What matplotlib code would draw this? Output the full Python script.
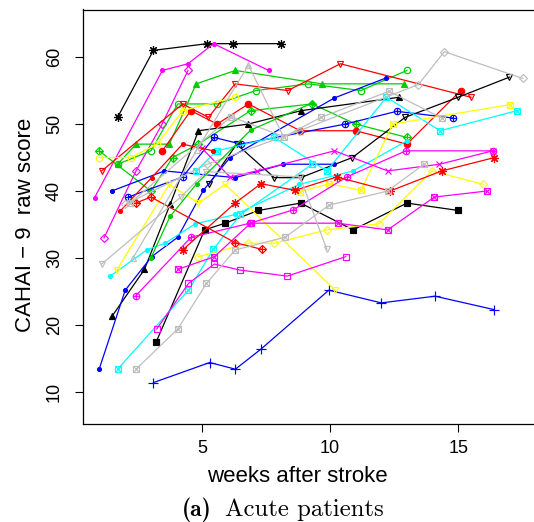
import matplotlib
matplotlib.use("Agg")
import matplotlib.pyplot as plt

plt.rcParams['font.family'] = ['Liberation Sans', 'DejaVu Sans']

# weeks after stroke (wk) and CAHAI-9 raw score (sc), one pair per patient
wk01 = [1.7, 3.1, 5.2, 6.2, 8.1];                      sc01 = [51, 61, 62, 62, 62]
wk02 = [0.8, 3.45, 4.45, 5.45, 7.6];                   sc02 = [39, 58, 59, 62, 58]
wk03 = [1.17, 2.42, 3.44, 4.45];                       sc03 = [33, 43, 50, 58]
wk04 = [1.7, 3.0, 4.05, 5.6, 7.1, 9.15, 11.2, 13.0];   sc04 = [44, 46, 53, 53, 55, 56, 55, 58]
wk05 = [0.98, 3.0, 3.85, 4.85, 6.9, 9.3, 11.0, 13.0];  sc05 = [46, 40, 45, 47, 52, 53, 50, 48]
wk06 = [1.7, 2.42, 3.72, 4.77, 6.3, 9.67, 12.9];       sc06 = [44, 47, 47, 56, 58, 56, 56]
wk07 = [1.08, 4.24, 5.25, 6.29, 8.35, 10.4, 15.5];     sc07 = [43, 53, 51, 56, 55, 59, 54]
wk08 = [3.45, 4.56, 5.59, 6.81, 8.83, 11.0, 13.0, 15.1]; sc08 = [46, 52, 50, 53, 49, 49, 47, 55]
wk09 = [1.5, 2.75, 3.75, 4.86, 6.81, 8.87, 12.7];      sc09 = [21.4, 28.3, 38, 49, 50, 52, 54]
wk10 = [5.27, 6.35, 7.82, 8.85, 10.87, 12.93, 15.0, 17.0]; sc10 = [41, 47, 42, 42, 45, 51, 54, 57]
wk11 = [3.2, 5.1, 5.9, 7.2, 8.85, 10.9, 13.0, 15.0];   sc11 = [17.4, 34.2, 35.2, 37.1, 38.2, 34.2, 38.2, 37.1]
wk12 = [3.1, 5.3, 6.3, 7.3, 9.95, 12.0, 14.1, 16.4];   sc12 = [11.4, 14.4, 13.4, 16.4, 25.2, 23.3, 24.3, 22.3]
wk13 = [0.98, 2.0, 3.03, 4.05, 5.05, 6.09, 10.17, 12.2]; sc13 = [13.4, 25.2, 30.2, 33.1, 40.1, 45, 53.9, 56.9]
wk14 = [2.12, 4.24, 5.47, 6.53, 10.6, 12.6, 14.8];     sc14 = [39.1, 42.1, 48, 47, 50, 51.9, 50.9]
wk15 = [1.47, 3.53, 6.3, 8.18, 10.17];                 sc15 = [40, 43, 42, 44, 44]
wk16 = [4.77, 5.57, 7.82, 9.87, 12.2, 14.3, 17.3];     sc16 = [43, 46, 48, 43, 54, 49, 52]
wk17 = [1.7, 4.47, 5.44, 6.5, 9.3];                    sc17 = [13.4, 25.2, 31.3, 36.5, 44]
wk18 = [1.41, 2.84, 3.55, 4.73, 6.3, 8.8, 10.9, 13.0]; sc18 = [27.3, 31.2, 32.2, 35.1, 36.5, 41, 43, 47.5]
wk19 = [0.99, 2.21, 3.25, 4.24, 6.29];                 sc19 = [45, 45, 47, 52, 54]
wk20 = [1.67, 3.72, 4.86, 5.9, 10.2];                  sc20 = [28.2, 41, 38.2, 41, 25.2]
wk21 = [4.86, 6.81, 7.82, 9.87, 11.9, 13.97, 15.99];   sc21 = [30.2, 32.2, 32.2, 34.2, 35.1, 43, 41]
wk22 = [8.83, 9.97, 11.2, 12.45, 17.03];               sc22 = [39.9, 41.1, 40.1, 50, 52.9]
wk23 = [2.42, 4.57, 6.88, 8.57, 10.65, 12.96, 16.38];  sc23 = [24.4, 33.1, 35.2, 37.2, 42.1, 46, 46]
wk24 = [4.99, 6.09, 7.13, 10.17, 12.25, 14.27, 16.35]; sc24 = [46.4, 42.1, 43, 46, 43, 44, 46]
wk25 = [4.05, 5.48, 6.9, 10.29, 12.25, 14.07, 16.12];  sc25 = [28.3, 30.2, 35.2, 35.2, 34.2, 39.1, 40]
wk26 = [3.23, 4.47, 5.48, 6.48, 8.33, 10.61];          sc26 = [19.4, 26.2, 29.1, 28.2, 27.3, 30.2]
wk27 = [4.24, 6.29, 7.3, 8.63, 10.26, 12.34, 14.36, 16.42]; sc27 = [31.2, 38.2, 41.1, 40.1, 42.1, 40, 43, 45]
wk28 = [2.41, 3.0, 6.29, 7.33];                        sc28 = [38.2, 39.1, 32.3, 31.3]
wk29 = [1.8, 3.03, 4.24, 5.44];                        sc29 = [37, 42, 47, 46]
wk30 = [2.42, 4.05, 5.17, 6.29, 8.24, 9.97, 12.25, 13.66]; sc30 = [13.4, 19.4, 26.2, 31.2, 33.1, 37.9, 40, 44]
wk31 = [2.19, 6.13, 8.2, 9.65, 12.3, 14.36];           sc31 = [38.2, 51.1, 48.1, 51, 54.9, 50.9]
wk32 = [2.3, 4.79, 6.81, 8.18];                        sc32 = [30, 46.1, 58.8, 48.1]
wk33 = [1.08, 4.17, 5.16, 8.83, 9.87];                 sc33 = [29.1, 39.1, 42.9, 42.1, 31.3]
wk34 = [2.0, 5.2, 8.8, 13.45, 14.46, 17.53];           sc34 = [38, 44, 49, 55.9, 60.8, 56.8]
wk35 = [3.0, 3.75, 4.79, 6.9, 9.28];                   sc35 = [30, 36.2, 41.1, 49.1, 53.1]

weeks = [wk01, wk02, wk03, wk04, wk05, wk06, wk07, wk08, wk09, wk10, wk11, wk12,
         wk13, wk14, wk15, wk16, wk17, wk18, wk19, wk20, wk21, wk22, wk23, wk24,
         wk25, wk26, wk27, wk28, wk29, wk30, wk31, wk32, wk33, wk34, wk35]
scores = [sc01, sc02, sc03, sc04, sc05, sc06, sc07, sc08, sc09, sc10, sc11, sc12,
          sc13, sc14, sc15, sc16, sc17, sc18, sc19, sc20, sc21, sc22, sc23, sc24,
          sc25, sc26, sc27, sc28, sc29, sc30, sc31, sc32, sc33, sc34, sc35]

# R colours / pch symbols
blk, red, grn, blu = 'black', '#FF0000', '#00CD00', '#0000FF'
cyn, mag, yel, gry = '#00FFFF', '#FF00FF', '#FFFF00', '#BEBEBE'
# (colour, symbol) ; symbols named after R pch
styles = [(blk, 'ast'), (mag, 'dot'), (mag, 'dia'), (grn, 'circ'), (grn, 'diaplus'),
          (grn, 'tri_f'), (red, 'tri_dn'), (red, 'circ_f'), (blk, 'tri_f'), (blk, 'tri_dn'),
          (blk, 'sq_f'), (blu, 'plus'), (blu, 'dot'), (blu, 'circplus'), (blu, 'dot'),
          (cyn, 'sqx'), (cyn, 'sqx'), (cyn, 'dot'), (yel, 'circ'), (yel, 'tri_dn'),
          (yel, 'dia'), (yel, 'sqx'), (mag, 'circplus'), (mag, 'cross'), (mag, 'sqx'),
          (mag, 'sq'), (red, 'ast'), (red, 'diaplus'), (red, 'dot'), (gry, 'sqx'),
          (gry, 'sqx'), (gry, 'tri'), (gry, 'tri_dn'), (gry, 'dia'), (grn, 'dot')]

sym = {
    'ast':      [dict(marker=(8, 2, 0), ms=6.5)],
    'dot':      [dict(marker='o', ms=2.8)],
    'dia':      [dict(marker='D', ms=4.3, mfc='none')],
    'circ':     [dict(marker='o', ms=4.6, mfc='none')],
    'circ_f':   [dict(marker='o', ms=4.6)],
    'diaplus':  [dict(marker='D', ms=4.3, mfc='none'), dict(marker='+', ms=6)],
    'circplus': [dict(marker='o', ms=4.6, mfc='none'), dict(marker='+', ms=4.6)],
    'tri':      [dict(marker='^', ms=5, mfc='none')],
    'tri_f':    [dict(marker='^', ms=4.6)],
    'tri_dn':   [dict(marker='v', ms=5, mfc='none')],
    'sq':       [dict(marker='s', ms=4.2, mfc='none')],
    'sq_f':     [dict(marker='s', ms=4.2)],
    'sqx':      [dict(marker='s', ms=4.2, mfc='none'), dict(marker='x', ms=4.2)],
    'plus':     [dict(marker='+', ms=6.5)],
    'cross':    [dict(marker='x', ms=4.6)],
}

fig = plt.figure(figsize=(5.34, 5.22), dpi=100)
ax = fig.add_axes([83 / 534, 1 - 424 / 522, (537 - 83) / 534, (424 - 9.5) / 522])

for x, y, (c, s) in zip(weeks, scores, styles):
    ax.plot(x, y, color=c, lw=0.9)
    for m in sym[s]:
        ax.plot(x, y, ls='none', color=c, mec=c, mew=0.85, **m)

ax.set_xlim(0.35, 18.08)
ax.set_ylim(5.22, 67.1)
ax.set_xticks([5, 10, 15])
ax.set_yticks([10, 20, 30, 40, 50, 60])
ax.tick_params(axis='both', length=5.5, width=0.8, labelsize=13, color='black')
ax.tick_params(axis='x', pad=6)
ax.tick_params(axis='y', pad=9)
for lab in ax.get_yticklabels():
    lab.set_rotation(90)
    lab.set_va('center')
for sp in ax.spines.values():
    sp.set_linewidth(0.9)

fig.text(297 / 534, 1 - 477 / 522, 'weeks after stroke', fontsize=16,
         ha='center', va='center')
fig.text(26 / 534, 1 - 225 / 522, 'CAHAI \u2212 9  raw score', fontsize=16,
         rotation=90, ha='center', va='center')

fig.text(182 / 534, 1 - 510 / 522, '(a)', family='cmb10', fontsize=17,
         ha='left', va='center')
fig.text(225 / 534, 1 - 510 / 522, 'Acute patients', family='cmr10', fontsize=17.8,
         ha='left', va='center')

fig.savefig('out.png', dpi=100)
